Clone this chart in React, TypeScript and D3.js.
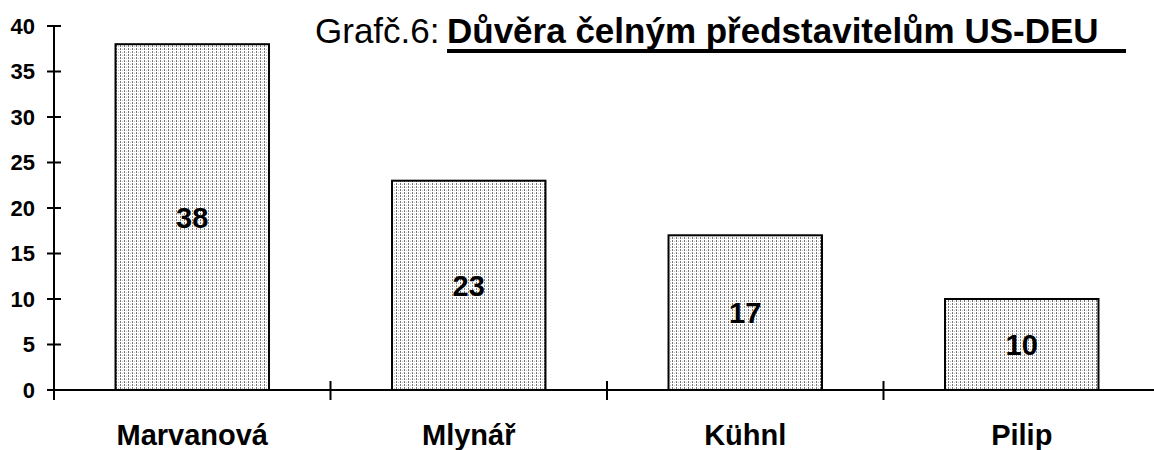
import React from "react";
import * as d3 from "d3";

// data
const categories = ["Marvanová", "Mlynář", "Kühnl", "Pilip"];
const values = [38, 23, 17, 10];
const yTicks = [0, 5, 10, 15, 20, 25, 30, 35, 40];
const titlePrefix = "Grafč.6:";
const titleMain = "Důvěra čelným představitelům US-DEU";

const W = 1154;
const H = 450;
const FONT = "'Liberation Sans', Arial, Helvetica, sans-serif";

export default function App() {
  const x = d3
    .scaleBand<string>()
    .domain(categories)
    .range([54, 1160])
    .paddingInner(0.445)
    .paddingOuter(0.2225);
  const step = x.step();
  const y = d3.scaleLinear().domain([0, 40]).range([390, 26]);

  // left edge of each category slot, used for the x ticks
  const bounds = categories.map((c) => (x(c) as number) - (step - x.bandwidth()) / 2);

  return (
    <div style={{ position: "fixed", left: 0, top: 0 }}>
      <svg width={W} height={H} style={{ display: "block", background: "#fff" }} fontFamily={FONT}>
        <defs>
          <pattern id="dots" width={4} height={3} patternUnits="userSpaceOnUse">
            <rect width={4} height={3} fill="#fff" />
            <rect x={0} y={0} width={1} height={2} fill="#777" />
            <rect x={2} y={1} width={1} height={1} fill="#c0c0c0" />
          </pattern>
        </defs>

        {/* bars */}
        {categories.map((c, i) => (
          <rect
            key={c}
            x={x(c)}
            y={y(values[i])}
            width={x.bandwidth()}
            height={y(0) - y(values[i])}
            fill="url(#dots)"
            stroke="#000"
            strokeWidth={2}
          />
        ))}

        {/* value labels */}
        {categories.map((c, i) => (
          <text
            key={c}
            x={(x(c) as number) + x.bandwidth() / 2}
            y={(y(values[i]) + y(0)) / 2}
            dy="0.36em"
            textAnchor="middle"
            fontWeight="bold"
            fontSize={29}
          >
            {values[i]}
          </text>
        ))}

        {/* y axis */}
        <line x1={54} x2={54} y1={y(40)} y2={400} stroke="#000" strokeWidth={2} />
        {yTicks.map((t) => (
          <g key={t}>
            <line x1={47} x2={61} y1={y(t)} y2={y(t)} stroke="#000" strokeWidth={2} />
            <text x={35} y={y(t)} dy="0.36em" textAnchor="end" fontWeight="bold" fontSize={22}>
              {t}
            </text>
          </g>
        ))}

        {/* x axis */}
        <line x1={54} x2={W} y1={y(0)} y2={y(0)} stroke="#000" strokeWidth={2} />
        {bounds.slice(1).map((b, i) => (
          <line key={i} x1={b} x2={b} y1={381} y2={400} stroke="#000" strokeWidth={2} />
        ))}
        {categories.map((c) => (
          <text
            key={c}
            x={(x(c) as number) + x.bandwidth() / 2}
            y={445}
            textAnchor="middle"
            fontWeight="bold"
            fontSize={29}
          >
            {c}
          </text>
        ))}

        {/* title */}
        <text x={315} y={43} fontSize={35}>
          {titlePrefix}
        </text>
        <text x={447} y={43} fontSize={35} fontWeight="bold">
          {titleMain}
        </text>
        <rect x={447} y={49} width={1126 - 447} height={4} fill="#000" />
      </svg>
    </div>
  );
}
